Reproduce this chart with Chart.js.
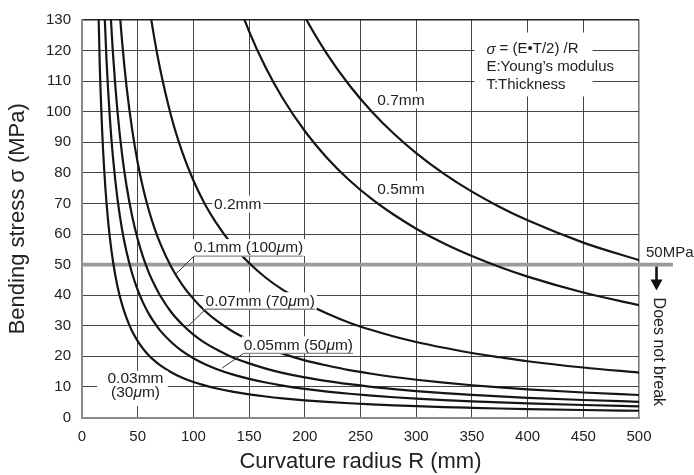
<!DOCTYPE html>
<html><head><meta charset="utf-8">
<script src="https://cdn.jsdelivr.net/npm/chart.js@4.4.1/dist/chart.umd.min.js"></script>
<style>html,body{margin:0;padding:0;background:#fff;}#c{display:block;}</style>
</head><body>
<canvas id="c" width="694" height="475"></canvas>
<script>
// ---- data ----
const radiusR = [10,12,14,16,18,20,22,25,28,32,36,40,45,50,55,60,65,70,80,90,100,110,120,135,150,165,180,200,220,240,260,280,300,325,350,375,400,450,500];
const thicknessLabels = ['0.03mm','0.05mm','0.07mm','0.1mm','0.2mm','0.5mm','0.7mm'];
const stress003 = [null,197.7,145.0,114.5,94.6,80.6,70.2,58.8,50.6,42.6,36.9,32.5,28.2,25.0,22.4,20.3,18.6,17.1,14.8,13.0,11.6,10.5,9.58,8.46,7.58,6.86,6.27,5.62,5.09,4.66,4.29,3.98,3.71,3.41,3.17,2.95,2.76,2.45,2.20];
const stress005 = [null,null,241.7,190.8,157.6,134.3,116.9,98.0,84.3,71.1,61.4,54.1,47.1,41.7,37.4,33.9,31.0,28.5,24.7,21.7,19.4,17.5,15.97,14.1,12.63,11.44,10.45,9.37,8.49,7.76,7.15,6.63,6.18,5.69,5.28,4.92,4.61,4.09,3.67];
const stress007 = [null,null,null,267.1,220.7,188.0,163.7,137.2,118.0,99.5,86.0,75.7,65.9,58.3,52.3,47.4,43.4,40.0,34.5,30.4,27.1,24.5,22.4,19.7,17.7,16.0,14.6,13.1,11.9,10.9,10.0,9.28,8.65,7.97,7.39,6.89,6.45,5.72,5.14];
const stress01  = [null,null,null,null,null,null,233.9,195.9,168.6,142.2,122.9,108.2,94.2,83.3,74.7,67.8,62.0,57.1,49.3,43.4,38.8,35.0,31.9,28.2,25.3,22.9,20.9,18.7,17.0,15.5,14.3,13.25,12.35,11.38,10.55,9.84,9.21,8.17,7.35];
const stress02  = [null,null,null,null,null,null,null,null,null,null,null,null,188.3,166.7,149.5,135.5,123.9,114.2,98.6,86.8,77.5,70.0,63.9,56.4,50.5,45.7,41.8,37.5,34.0,31.0,28.6,26.5,24.7,22.8,21.1,19.7,18.4,16.35,14.7];
const stress05  = [null,null,null,null,null,null,null,null,null,null,null,null,null,null,null,null,null,null,null,null,null,null,159.7,141.05,126.3,114.35,104.5,93.7,84.9,77.6,71.5,66.3,61.75,56.9,52.8,49.2,46.06,40.87,36.73];
const stress07  = [null,null,null,null,null,null,null,null,null,null,null,null,null,null,null,null,null,null,null,null,null,null,null,null,null,160.1,146.25,131.1,118.85,108.67,100.1,92.78,86.46,79.67,73.87,68.86,64.49,57.2,51.42];
const xTickValues = [0,50,100,150,200,250,300,350,400,450,500];
const xTickLabels = ['0','50','100','150','200','250','300','350','400','450','500'];
const yTickValues = [0,10,20,30,40,50,60,70,80,90,100,110,120,130];
const yTickLabels = ['0','10','20','30','40','50','60','70','80','90','100','110','120','130'];
const limitStress = 50;

// ---- styling ----
const FONT = "'Liberation Sans', Arial, Helvetica, sans-serif";
const LBL = 15.5;
const seriesList = [stress003, stress005, stress007, stress01, stress02, stress05, stress07];

const datasets = seriesList.map((arr, i) => ({
  label: thicknessLabels[i],
  data: radiusR.map((r, j) => ({x: r, y: arr[j]})),
  borderColor: '#151515', borderWidth: 2.2, pointRadius: 0, fill: false,
  cubicInterpolationMode: 'monotone', clip: 0
}));

function runsDraw(ctx, x, y, runs, size, color, measureOnly) {
  ctx.textBaseline = 'middle'; ctx.textAlign = 'left';
  let cx = x;
  for (const r of runs) {
    ctx.font = (r.it ? 'italic ' : '') + size + 'px ' + FONT;
    if (!measureOnly) { ctx.fillStyle = color; ctx.fillText(r.t, cx, y); }
    cx += ctx.measureText(r.t).width;
  }
  return cx - x;
}

const curveLabels = [
  {runs:[{t:'0.7mm'}], r:265, s:103.7},
  {runs:[{t:'0.5mm'}], r:265, s:74.4},
  {runs:[{t:'0.2mm'}], r:118.5, s:69.6},
  {runs:[{t:'0.1mm (100'},{t:'μ',it:true},{t:'m)'}], r:100.5, s:55.4, leader:[84,46.8]},
  {runs:[{t:'0.07mm (70'},{t:'μ',it:true},{t:'m)'}], r:110.9, s:38.0, leader:[94.7,29.7]},
  {runs:[{t:'0.05mm (50'},{t:'μ',it:true},{t:'m)'}], r:145.2, s:23.6, leader:[125.9,16.2]}
];

const annotations = {
  id: 'annotations',
  beforeDatasetsDraw(chart) {
    const {ctx, chartArea, scales:{y}} = chart;
    const yy = y.getPixelForValue(limitStress);
    ctx.save();
    ctx.strokeStyle = '#9b9b9b'; ctx.lineWidth = 3.6;
    ctx.beginPath(); ctx.moveTo(chartArea.left, yy); ctx.lineTo(chartArea.right + 34, yy); ctx.stroke();
    ctx.restore();
  },
  afterDatasetsDraw(chart) {
    const {ctx, chartArea, scales:{x, y}} = chart;
    ctx.save();
    for (const L of curveLabels) {
      const lx = x.getPixelForValue(L.r), ly = y.getPixelForValue(L.s);
      const w = runsDraw(ctx, lx, ly, L.runs, LBL, '#222', true);
      ctx.fillStyle = '#fff';
      ctx.fillRect(lx - 2, ly - 9, w + 4, 17);
      runsDraw(ctx, lx, ly, L.runs, LBL, '#222');
      if (L.leader) {
        const uy = ly + 8;
        ctx.strokeStyle = '#8c8c8c'; ctx.lineWidth = 1.4;
        ctx.beginPath(); ctx.moveTo(lx, uy); ctx.lineTo(lx + w, uy); ctx.stroke();
        ctx.strokeStyle = '#333'; ctx.lineWidth = 1;
        ctx.beginPath(); ctx.moveTo(lx, uy); ctx.lineTo(x.getPixelForValue(L.leader[0]), y.getPixelForValue(L.leader[1])); ctx.stroke();
      }
    }
    {
      const bx0 = x.getPixelForValue(13.6), bx1 = x.getPixelForValue(77);
      const by0 = y.getPixelForValue(15.3), by1 = y.getPixelForValue(3.75);
      ctx.fillStyle = '#fff'; ctx.fillRect(bx0, by0, bx1 - bx0, by1 - by0);
      const cx = x.getPixelForValue(48);
      const r1 = [{t:'0.03mm'}], r2 = [{t:'(30'},{t:'μ',it:true},{t:'m)'}];
      const w1 = runsDraw(ctx, 0, 0, r1, LBL, '#222', true), w2 = runsDraw(ctx, 0, 0, r2, LBL, '#222', true);
      runsDraw(ctx, cx - w1/2, y.getPixelForValue(12.6), r1, LBL, '#222');
      runsDraw(ctx, cx - w2/2, y.getPixelForValue(8.0), r2, LBL, '#222');
    }
    {
      const bx0 = x.getPixelForValue(352.3), bx1 = x.getPixelForValue(458.3);
      const by0 = y.getPixelForValue(125.9), by1 = y.getPixelForValue(105);
      ctx.fillStyle = '#fff'; ctx.fillRect(bx0, by0, bx1 - bx0, by1 - by0);
      const tx = x.getPixelForValue(363);
      const l2 = [{t:'E:Young’s modulus'}];
      const w2 = runsDraw(ctx, 0, 0, l2, 15, '#222', true);
      const y2 = y.getPixelForValue(114.6);
      ctx.fillStyle = '#fff'; ctx.fillRect(tx - 2, y2 - 9, w2 + 6, 18);
      runsDraw(ctx, tx, y.getPixelForValue(120.4), [{t:'σ',it:true},{t:' = (E•T/2) /R'}], 15, '#222');
      runsDraw(ctx, tx, y2, l2, 15, '#222');
      runsDraw(ctx, tx, y.getPixelForValue(108.9), [{t:'T:Thickness'}], 15, '#222');
    }
    ctx.restore();
  },
  afterDraw(chart) {
    const {ctx, chartArea, scales:{y}} = chart;
    const yy = y.getPixelForValue(limitStress);
    const R = chartArea.right;
    ctx.save();
    runsDraw(ctx, R + 7, yy - 12, [{t:'50MPa'}], 15, '#222');
    const ax = R + 17.5;
    ctx.strokeStyle = '#111'; ctx.lineWidth = 2.6;
    ctx.beginPath(); ctx.moveTo(ax, yy + 2); ctx.lineTo(ax, yy + 17); ctx.stroke();
    ctx.fillStyle = '#111';
    ctx.beginPath(); ctx.moveTo(ax - 6, yy + 15); ctx.lineTo(ax + 6, yy + 15); ctx.lineTo(ax, yy + 26); ctx.closePath(); ctx.fill();
    ctx.translate(R + 19, yy + 33);
    ctx.rotate(Math.PI / 2);
    ctx.font = '16px ' + FONT; ctx.fillStyle = '#222';
    ctx.textAlign = 'left'; ctx.textBaseline = 'middle';
    ctx.fillText('Does not break', 0, 0);
    ctx.restore();
  }
};

new Chart(document.getElementById('c'), {
  type: 'line',
  data: { datasets },
  plugins: [annotations],
  options: {
    responsive: false, animation: false, devicePixelRatio: 1,
    layout: { padding: { top: 12, right: 55, left: 0, bottom: 0 } },
    plugins: { legend: { display: false }, tooltip: { enabled: false } },
    scales: {
      x: {
        type: 'linear', min: 0, max: 500,
        afterBuildTicks: s => { s.ticks = xTickValues.map(v => ({value: v})); },
        ticks: { callback: (v, i) => xTickLabels[i], font: { family: FONT, size: 15 }, color: '#222', padding: 10, maxRotation: 0, autoSkip: false },
        grid: { color: c => c.tick && c.tick.value === 500 ? '#7a7a7a' : '#444', lineWidth: c => c.tick && c.tick.value === 500 ? 1.6 : 1, drawTicks: false },
        border: { color: '#8a8a8a', width: 2 },
        title: { display: true, text: 'Curvature radius R (mm)', font: { family: FONT, size: 22, lineHeight: 1.2 }, color: '#222', padding: { top: 0, bottom: 0 } },
        afterFit: s => { s.height = 57.5; }
      },
      y: {
        type: 'linear', min: 0, max: 130,
        afterBuildTicks: s => { s.ticks = yTickValues.map(v => ({value: v})); },
        ticks: { callback: (v, i) => yTickLabels[i], font: { family: FONT, size: 15 }, color: '#222', padding: 11, autoSkip: false },
        grid: { color: c => c.tick && c.tick.value === 130 ? '#222' : '#444', lineWidth: c => c.tick && c.tick.value === 130 ? 1.5 : 1, drawTicks: false },
        border: { color: '#8a8a8a', width: 2 },
        title: { display: true, text: 'Bending stress σ (MPa)', font: { family: FONT, size: 22, lineHeight: 1.2 }, color: '#222', padding: { top: 5, bottom: 0 } },
        afterFit: s => { s.width = 82; }
      }
    }
  }
});
</script>
</body></html>
